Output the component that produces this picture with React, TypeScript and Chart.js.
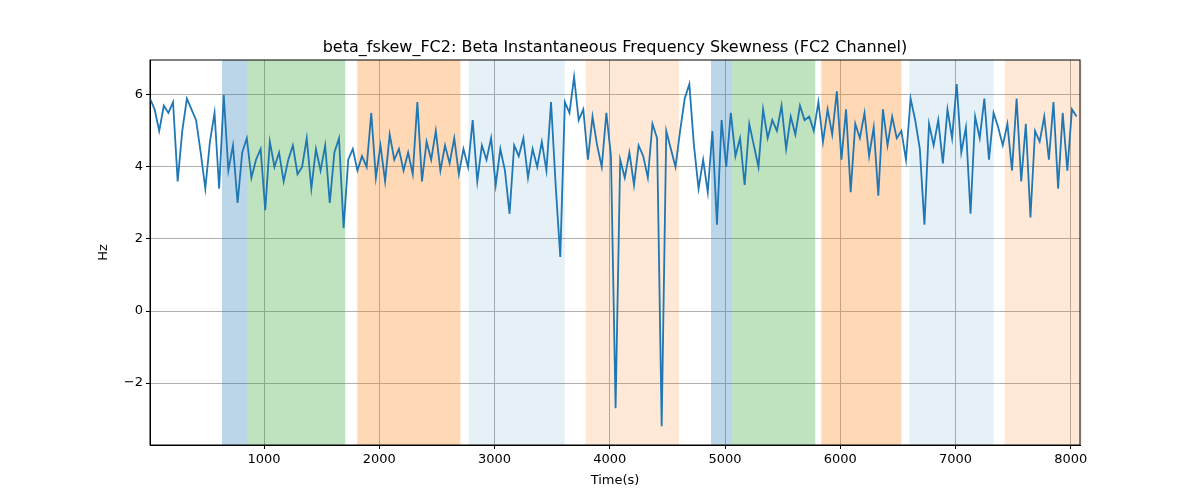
import React, { useEffect, useRef } from 'react';
import { Chart, registerables } from 'chart.js';

Chart.register(...registerables);

const X_START = 10;
const X_STEP = 40;
const values = [
  5.9, 5.6, 5.0, 5.7, 5.5, 5.8, 3.6, 5.0, 5.9, 5.6,
  5.3, 4.4, 3.4, 4.7, 5.5, 3.4, 6.0, 3.9, 4.6, 3.0,
  4.4, 4.8, 3.7, 4.2, 4.5, 2.8, 4.7, 4.0, 4.4, 3.6,
  4.2, 4.6, 3.8, 4.0, 4.8, 3.4, 4.5, 3.9, 4.6, 3.0,
  4.4, 4.8, 2.3, 4.2, 4.5, 3.9, 4.3, 4.0, 5.5, 3.7,
  4.6, 3.6, 4.9, 4.2, 4.5, 3.9, 4.4, 3.8, 5.8, 3.6,
  4.7, 4.2, 5.0, 3.9, 4.6, 4.1, 4.8, 3.8, 4.5, 4.0,
  5.3, 3.6, 4.6, 4.2, 4.8, 3.5, 4.5, 3.9, 2.7, 4.6,
  4.3, 4.8, 3.7, 4.5, 4.0, 4.7, 3.9, 5.8, 3.5, 1.5,
  5.8, 5.5, 6.5, 5.3, 5.6, 4.2, 5.4, 4.6, 4.0, 5.5,
  4.3, -2.7, 4.2, 3.7, 4.4, 3.5, 4.6, 4.3, 3.7, 5.2,
  4.8, -3.2, 5.0, 4.5, 4.0, 5.0, 5.9, 6.3, 4.6, 3.4,
  4.2, 3.3, 5.0, 2.4, 5.3, 4.0, 5.5, 4.3, 4.8, 3.5,
  5.2, 4.6, 4.0, 5.6, 4.8, 5.3, 5.0, 5.7, 4.5, 5.4,
  4.9, 5.7, 5.3, 5.4, 5.0, 5.8, 4.7, 5.6, 4.9, 6.1,
  4.2, 5.6, 3.3, 5.2, 4.8, 5.5, 4.3, 5.1, 3.2, 5.6,
  4.6, 5.4, 4.8, 5.0, 4.2, 5.9, 5.3, 4.5, 2.4, 5.2,
  4.6, 5.3, 4.1, 5.6, 4.8, 6.3, 4.4, 5.1, 2.7, 5.4,
  4.8, 5.9, 4.2, 5.5, 5.1, 4.6, 5.2, 3.9, 5.9, 3.6,
  5.2, 2.6, 5.0, 4.7, 5.4, 4.2, 5.8, 3.4, 5.5, 3.9,
  5.6, 5.4,
];

// shaded intervals: [start, end, color]
const spans: [number, number, string][] = [
  [635, 852, 'rgba(31,119,180,0.3)'],
  [852, 1704, 'rgba(44,160,44,0.3)'],
  [1809, 2704, 'rgba(255,127,14,0.3)'],
  [2774, 3609, 'rgba(31,119,180,0.11)'],
  [3791, 4600, 'rgba(255,127,14,0.17)'],
  [4878, 5061, 'rgba(31,119,180,0.3)'],
  [5061, 5783, 'rgba(44,160,44,0.3)'],
  [5835, 6530, 'rgba(255,127,14,0.3)'],
  [6600, 7330, 'rgba(31,119,180,0.11)'],
  [7426, 8096, 'rgba(255,127,14,0.17)'],
];

const xTicks = [1000, 2000, 3000, 4000, 5000, 6000, 7000, 8000];
const yTicks = [-2, 0, 2, 4, 6];
const TITLE = 'beta_fskew_FC2: Beta Instantaneous Frequency Skewness (FC2 Channel)';

const spanPlugin = {
  id: 'spans',
  beforeDatasetsDraw(chart: any) {
    const { ctx, chartArea, scales } = chart;
    ctx.save();
    for (const [a, b, c] of spans) {
      const x0 = scales.x.getPixelForValue(a);
      const x1 = scales.x.getPixelForValue(b);
      ctx.fillStyle = c;
      ctx.fillRect(x0, chartArea.top, x1 - x0, chartArea.bottom - chartArea.top);
    }
    ctx.restore();
  },
  afterDraw(chart: any) {
    const { ctx, chartArea } = chart;
    ctx.save();
    ctx.strokeStyle = '#000';
    ctx.lineWidth = 1;
    ctx.strokeRect(chartArea.left, chartArea.top, chartArea.right - chartArea.left, chartArea.bottom - chartArea.top);
    ctx.fillStyle = '#000';
    ctx.font = '16px "DejaVu Sans"';
    ctx.textAlign = 'center';
    ctx.textBaseline = 'alphabetic';
    ctx.fillText(TITLE, (chartArea.left + chartArea.right) / 2, 52);
    ctx.restore();
  },
};

const font = { family: 'DejaVu Sans', size: 13 };

const App = () => {
  const ref = useRef<HTMLCanvasElement>(null);

  useEffect(() => {
    if (!ref.current) return;
    const chart = new Chart(ref.current, {
      type: 'line',
      data: {
        datasets: [{
          data: values.map((v, i) => ({ x: X_START + i * X_STEP, y: v })),
          borderColor: '#1f77b4',
          borderWidth: 1.8,
          pointRadius: 0,
          tension: 0,
        }],
      },
      options: {
        animation: false,
        responsive: false,
        layout: { padding: { left: 96, right: 120, top: 60, bottom: 12 } },
        plugins: {
          legend: { display: false },
          tooltip: { enabled: false },
          title: { display: false },
        },
        scales: {
          x: {
            type: 'linear',
            min: 10,
            max: 8080,
            afterBuildTicks: (s: any) => { s.ticks = xTicks.map((v) => ({ value: v })); },
            afterFit: (s: any) => { s.height = 43; },
            ticks: { color: '#000', font, maxRotation: 0, callback: (v: any) => String(v) },
            grid: { color: '#b0b0b0', drawTicks: true, tickLength: 4, tickColor: '#000' },
            border: { color: '#000' },
            title: { display: true, text: 'Time(s)', color: '#000', font, padding: 0 },
          },
          y: {
            min: -3.72,
            max: 6.97,
            afterBuildTicks: (s: any) => { s.ticks = yTicks.map((v) => ({ value: v })); },
            afterFit: (s: any) => { s.width = 54; },
            ticks: {
              color: '#000',
              font,
              callback: (v: any) => (v < 0 ? '\u2212' + Math.abs(v) : String(v)),
            },
            grid: { color: '#b0b0b0', tickLength: 4, tickColor: '#000' },
            border: { color: '#000' },
            title: { display: true, text: 'Hz', color: '#000', font, padding: 0 },
          },
        },
      },
      plugins: [spanPlugin],
    } as any);
    return () => chart.destroy();
  }, []);

  return (
    <div style={{ position: 'absolute', left: 0, top: 0, width: 1200, height: 500, background: '#fff' }}>
      <canvas ref={ref} width={1200} height={500} />
    </div>
  );
};

export default App;
